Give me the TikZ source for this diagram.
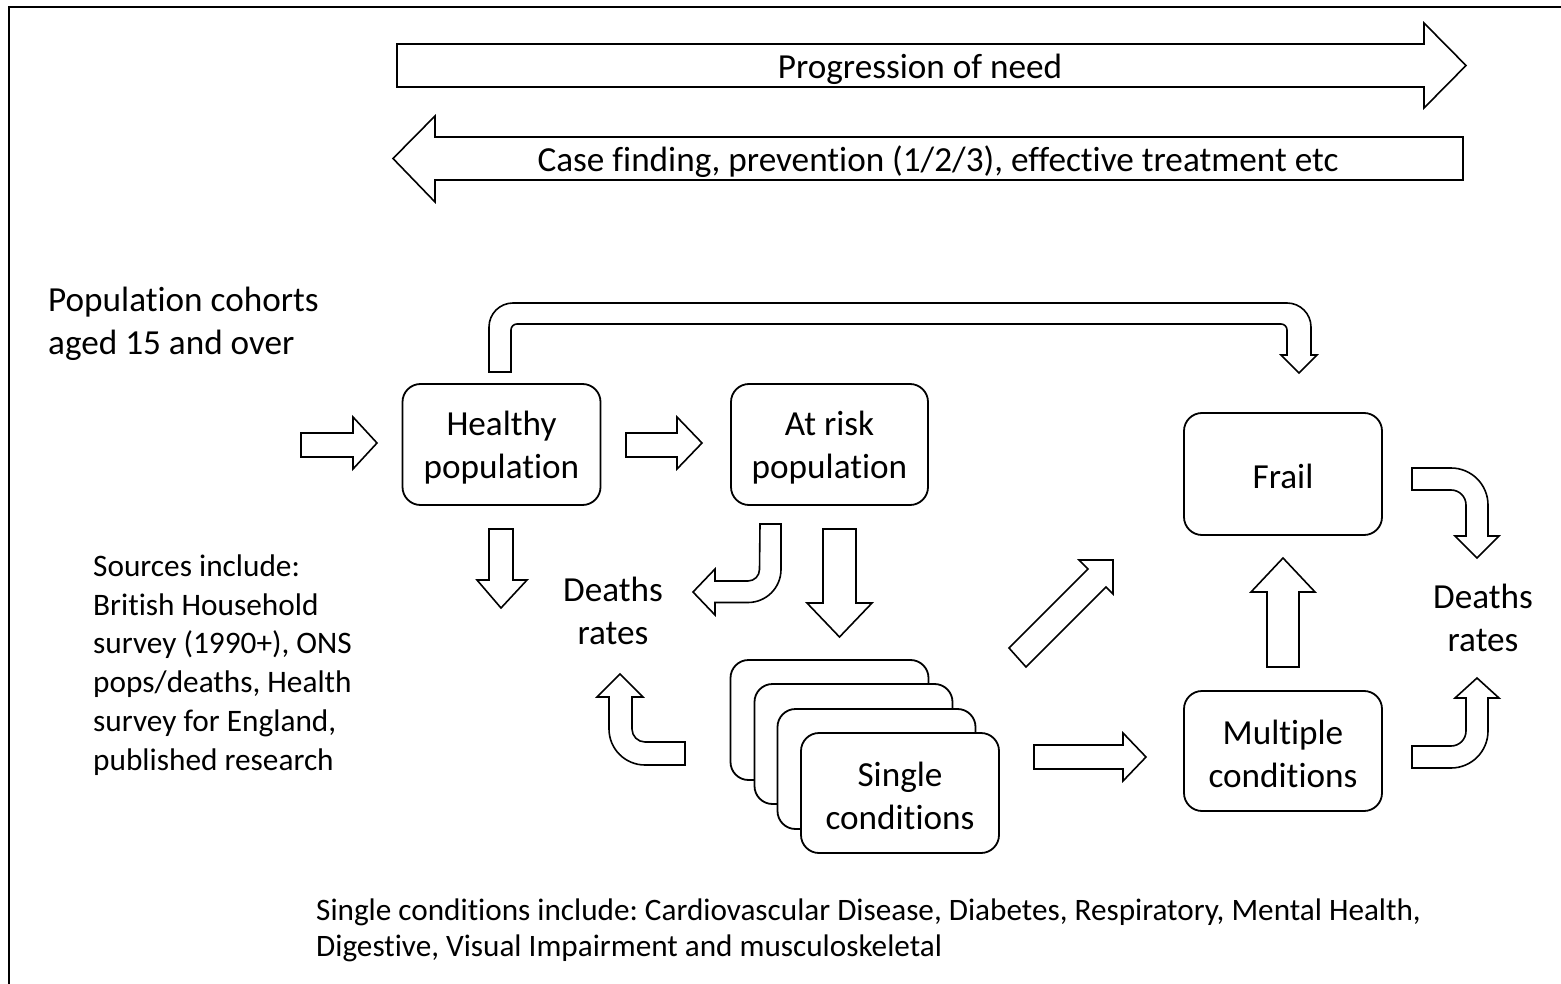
\documentclass[tikz,border=0pt]{standalone}
\usepackage{fontspec}
\setmainfont{Carlito}[Ligatures={NoCommon}]
\frenchspacing
\begin{document}
\begin{tikzpicture}[x=1pt,y=-1pt,
  blk/.style={draw=black,fill=white,line width=1.6pt,line join=miter},
  box/.style={draw=black,fill=white,line width=1.8pt,rounded corners=18pt,
    align=center,inner sep=0pt,minimum width=198pt,minimum height=121pt,
    font=\fontsize{35.2}{43}\selectfont},
  lbl/.style={align=center,inner sep=0pt,font=\fontsize{35.2}{43}\selectfont}]
\useasboundingbox (0,0) rectangle (1561,984);
% frame
\draw[line width=2pt] (1562,7) -- (9,7) -- (9,985);

% top arrows
\draw[blk] (397,44) -- (1424,44) -- (1424,23) -- (1466,65.5) -- (1424,108) -- (1424,87) -- (397,87) -- cycle;
\node[lbl] (prog) at (920,69) {Progression of need};
\draw[blk] (1463,137) -- (435,137) -- (435,116) -- (393,158.5) -- (435,202) -- (435,180) -- (1463,180) -- cycle;
\node[lbl] (case) at (938,162) {Case finding, prevention (1/2/3), effective treatment etc};

% texts
\node[lbl,align=left,anchor=west] (cohort) at (48,324) {Population cohorts\\aged 15 and over};
\node[align=left,anchor=west,inner sep=0pt,font=\fontsize{31.3}{38.7}\selectfont] (src) at (93,665) {Sources include:\\British Household\\survey (1990+), ONS\\pops/deaths, Health\\survey for England,\\published research};
\node[align=left,anchor=west,inner sep=0pt,font=\fontsize{31.2}{36}\selectfont] (note) at (316,930) {Single conditions include: Cardiovascular Disease, Diabetes, Respiratory, Mental Health,\\Digestive, Visual Impairment and musculoskeletal};
\node[lbl] (deathsL) at (613,611) {Deaths\\rates};
\node[lbl] (deathsR) at (1483,618) {Deaths\\rates};

% boxes
\node[box] (healthy) at (501.5,444.5) {\strut Healthy\\population};
\node[box,minimum width=197pt] (atrisk) at (829.5,444.5) {\strut At risk\\population};
\node[box,minimum height=122pt] (frail) at (1283,474) {};
\node[lbl] (frailtxt) at (1283,476) {Frail};
\node[box,minimum height=120pt] (multi) at (1283,751) {\strut Multiple\\conditions};
\node[box,minimum height=120pt] (s1) at (829.5,720) {};
\node[box,minimum height=120pt] (s2) at (853.5,744) {};
\node[box,minimum height=120pt] (s3) at (876.5,769) {};
\node[box,minimum height=120pt] (single) at (900,793) {\strut Single\\conditions};

% big bent arrow healthy -> frail
\draw[blk] (489,372) -- (489,327) arc[start angle=180,end angle=270,radius=24] -- (1287,303)
  arc[start angle=270,end angle=360,radius=24] -- (1311,355) -- (1317,355) -- (1299,373) -- (1281,355) -- (1287,355)
  -- (1287,330) arc[start angle=0,end angle=-90,radius=6] -- (517,324)
  arc[start angle=270,end angle=180,radius=6] -- (511,372) -- cycle;

% straight arrows
\draw[blk] (301,433) -- (353,433) -- (353,417) -- (377,443) -- (353,469) -- (353,457) -- (301,457) -- cycle;
\draw[blk] (626,433) -- (677,433) -- (677,417) -- (702,443) -- (677,469) -- (677,457) -- (626,457) -- cycle;
\draw[blk] (489,529) -- (513,529) -- (513,580) -- (527,580) -- (501,608) -- (477,580) -- (489,580) -- cycle;
\draw[blk] (823,529) -- (856,529) -- (856,603) -- (872,603) -- (839.5,637) -- (807,603) -- (823,603) -- cycle;
\draw[blk] (1034,745) -- (1123,745) -- (1123,733) -- (1146,757) -- (1123,781) -- (1123,769) -- (1034,769) -- cycle;
\draw[blk] (1267,667) -- (1267,592) -- (1251,592) -- (1283,558) -- (1315,592) -- (1299,592) -- (1299,667) -- cycle;
\draw[blk] (1009,648) -- (1088,569) -- (1079,560) -- (1113,560) -- (1113,594) -- (1106,587) -- (1026,667) -- cycle;

% bent arrows to death rates
\draw[blk] (760,524) -- (781,524) -- (781,569.5) arc[start angle=0,end angle=90,radius=33] -- (715,602.5)
  -- (715,615) -- (693,592) -- (715,569) -- (715,581) -- (748,581) arc[start angle=90,end angle=0,radius=11.5] -- cycle;
\draw[blk] (685,742) -- (685,765) -- (645,765) arc[start angle=90,end angle=180,radius=36] -- (609,697)
  -- (597,697) -- (620,674) -- (643,697) -- (632,697) -- (632,729) arc[start angle=180,end angle=90,radius=13] -- cycle;
\draw[blk] (1412,468) -- (1451,468) arc[start angle=270,end angle=360,radius=37] -- (1488,536)
  -- (1499,536) -- (1477,558) -- (1455,536) -- (1466,536) -- (1466,505) arc[start angle=0,end angle=-90,radius=15] -- (1412,490) -- cycle;
\draw[blk] (1412,768) -- (1451,768) arc[start angle=90,end angle=0,radius=37] -- (1488,698)
  -- (1499,698) -- (1477,678) -- (1455,698) -- (1466,698) -- (1466,731) arc[start angle=0,end angle=90,radius=15] -- (1412,746) -- cycle;
\end{tikzpicture}
\end{document}
